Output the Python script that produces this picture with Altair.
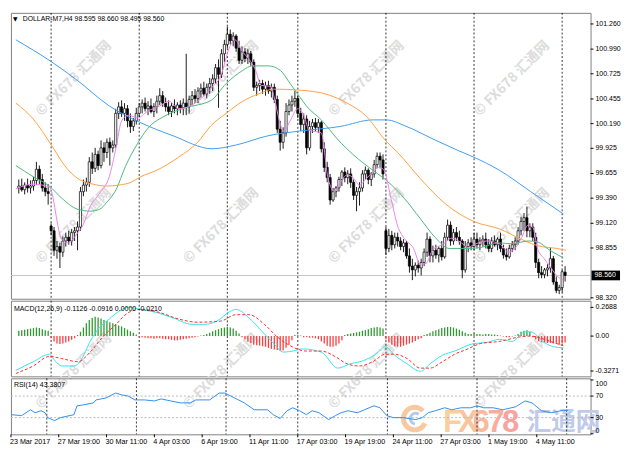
import altair as alt
import pandas as pd

W = 590
H_MAIN, H_MACD, H_RSI = 291, 77, 57
FONT = "Liberation Sans"
CJK = "Noto Sans CJK SC"
FS = 7.1

TITLE = "DOLLAR-M7,H4  98.595 98.660 98.495 98.560"
MACD_TITLE = "MACD(12,26,9) -0.1126 -0.0916 0.0000 -0.0210"
RSI_TITLE = "RSI(14) 43.3807"
CURRENT = 98.560

PRICE_TICKS = [101.260, 100.990, 100.725, 100.455, 100.190, 99.925, 99.655,
               99.390, 99.120, 98.855, 98.320]
MACD_TICKS = [0.2688, 0.0, -0.3271]
MACD_TICK_TEXT = ["0.2688", "0.00", "-0.3271"]
RSI_TICKS = [70, 30]
RSI_TOP, RSI_BOTTOM = 100, 0
RSI_LEVELS = [70, 30]
GRID_BARS = [11, 41, 71, 95, 125, 155, 185]
X_LABEL_BARS = [-1, 15, 31, 47, 63, 79, 95, 111, 127, 143, 159, 175]
X_LABELS = ["23 Mar 2017", "27 Mar 19:00", "30 Mar 11:00", "4 Apr 03:00",
            "6 Apr 19:00", "11 Apr 11:00", "17 Apr 03:00", "19 Apr 19:00",
            "24 Apr 11:00", "27 Apr 03:00", "1 May 19:00", "4 May 11:00"]

# ---- H4 candles ----
OPEN = [
    99.50, 99.52, 99.48, 99.53, 99.50, 99.52, 99.58, 99.70, 99.59, 99.50,
    99.46, 99.09, 99.04, 98.83, 98.87, 98.81, 98.93, 98.97, 98.93, 99.02,
    99.04, 99.08, 99.46, 99.53, 99.56, 99.78, 99.71, 99.86, 99.74, 99.93,
    99.88, 99.99, 99.93, 99.96, 100.30, 100.37, 100.30, 100.35, 100.22, 100.16,
    100.22, 100.30, 100.37, 100.41, 100.35, 100.38, 100.32, 100.37, 100.43, 100.49,
    100.41, 100.37, 100.32, 100.38, 100.35, 100.39, 100.36, 100.41, 100.37, 100.45,
    100.49, 100.46, 100.54, 100.57, 100.51, 100.58, 100.62, 100.67, 100.79, 100.72,
    100.94, 101.04, 101.15, 101.08, 101.13, 101.00, 100.87, 100.96, 100.89, 100.94,
    100.85, 100.58, 100.60, 100.62, 100.56, 100.60, 100.54, 100.58, 100.45, 100.13,
    99.99, 100.09, 100.32, 100.39, 100.43, 100.46, 100.30, 100.18, 100.24, 99.93,
    100.16, 100.20, 100.15, 100.20, 99.92, 99.72, 99.61, 99.37, 99.46, 99.50,
    99.59, 99.67, 99.61, 99.65, 99.56, 99.42, 99.46, 99.50, 99.65, 99.69,
    99.59, 99.65, 99.75, 99.84, 99.80, 99.04, 98.85, 98.99, 98.89, 98.97,
    98.93, 98.87, 98.91, 98.77, 98.66, 98.62, 98.67, 98.64, 98.70, 98.81,
    98.95, 98.77, 98.83, 98.78, 98.85, 98.76, 98.97, 99.10, 98.93, 99.02,
    98.97, 98.93, 98.62, 98.87, 98.91, 98.87, 98.95, 98.89, 98.93, 98.95,
    98.89, 98.85, 98.93, 98.89, 98.95, 98.85, 98.78, 98.76, 98.85, 98.89,
    98.93, 99.04, 99.14, 99.18, 99.04, 99.08, 98.97, 98.70, 98.59, 98.57,
    98.62, 98.64, 98.74, 98.49, 98.40, 98.43, 98.595]
HIGH = [
    99.59, 99.60, 99.56, 99.60, 99.58, 99.62, 99.78, 99.74, 99.65, 99.56,
    99.54, 99.12, 99.08, 98.93, 98.91, 98.98, 99.02, 99.04, 99.06, 99.08,
    99.14, 99.51, 99.59, 99.61, 99.83, 99.88, 99.93, 99.90, 100.01, 99.99,
    100.03, 100.04, 100.01, 100.35, 100.42, 100.44, 100.41, 100.39, 100.30, 100.25,
    100.36, 100.41, 100.45, 100.47, 100.43, 100.46, 100.41, 100.49, 100.57, 100.54,
    100.47, 100.44, 100.41, 100.45, 100.42, 100.44, 100.46, 100.94, 100.49, 100.54,
    100.56, 100.58, 100.62, 100.64, 100.62, 100.68, 100.72, 100.83, 100.88, 100.99,
    101.09, 101.23, 101.20, 101.17, 101.15, 101.08, 101.02, 101.00, 100.99, 100.97,
    100.88, 100.64, 100.66, 100.66, 100.64, 100.65, 100.62, 100.62, 100.49, 100.22,
    100.15, 100.41, 100.45, 100.49, 100.54, 100.49, 100.36, 100.30, 100.28, 100.22,
    100.24, 100.25, 100.24, 100.22, 99.99, 99.78, 99.65, 99.50, 99.52, 99.62,
    99.69, 99.72, 99.69, 99.71, 99.59, 99.51, 99.56, 99.69, 99.73, 99.71,
    99.67, 99.80, 99.88, 99.88, 99.86, 99.08, 99.06, 99.04, 99.02, 99.02,
    98.97, 98.95, 98.93, 98.85, 98.74, 98.70, 98.72, 98.74, 98.85, 99.02,
    98.98, 98.88, 98.89, 98.87, 98.93, 99.02, 99.16, 99.14, 99.06, 99.08,
    99.04, 98.95, 98.93, 98.95, 98.97, 99.02, 99.02, 98.97, 98.99, 99.02,
    98.95, 98.97, 98.99, 98.97, 99.02, 98.89, 98.85, 98.89, 98.93, 98.97,
    99.08, 99.19, 99.23, 99.30, 99.12, 99.12, 99.02, 98.74, 98.66, 98.64,
    98.68, 98.86, 98.77, 98.55, 98.46, 98.62, 98.660]
LOW = [
    99.44, 99.46, 99.43, 99.45, 99.44, 99.47, 99.53, 99.54, 99.46, 99.41,
    99.32, 98.99, 98.77, 98.74, 98.64, 98.76, 98.87, 98.89, 98.88, 98.93,
    98.83, 99.04, 99.41, 99.46, 99.51, 99.65, 99.67, 99.69, 99.71, 99.78,
    99.82, 99.74, 99.88, 99.93, 100.24, 100.26, 100.22, 100.15, 100.09, 100.11,
    100.18, 100.26, 100.30, 100.32, 100.28, 100.30, 100.26, 100.30, 100.39, 100.37,
    100.32, 100.28, 100.26, 100.30, 100.28, 100.30, 100.28, 100.28, 100.30, 100.39,
    100.41, 100.41, 100.47, 100.49, 100.46, 100.51, 100.54, 100.62, 100.36, 100.68,
    100.85, 101.00, 101.04, 101.02, 100.96, 100.83, 100.83, 100.85, 100.83, 100.81,
    100.54, 100.49, 100.54, 100.51, 100.49, 100.51, 100.47, 100.41, 100.09, 99.90,
    99.92, 100.05, 100.28, 100.32, 100.37, 100.25, 100.11, 100.09, 99.86, 99.90,
    100.09, 100.11, 100.09, 99.88, 99.67, 99.56, 99.32, 99.35, 99.40, 99.46,
    99.52, 99.56, 99.54, 99.50, 99.37, 99.25, 99.31, 99.46, 99.59, 99.54,
    99.52, 99.61, 99.71, 99.71, 99.59, 98.78, 98.81, 98.83, 98.85, 98.87,
    98.83, 98.81, 98.74, 98.59, 98.51, 98.55, 98.59, 98.56, 98.66, 98.76,
    98.70, 98.70, 98.74, 98.70, 98.72, 98.74, 98.93, 98.88, 98.89, 98.93,
    98.89, 98.53, 98.59, 98.81, 98.83, 98.83, 98.85, 98.83, 98.87, 98.85,
    98.81, 98.81, 98.87, 98.83, 98.81, 98.74, 98.72, 98.74, 98.81, 98.83,
    98.89, 98.99, 99.04, 98.97, 98.97, 98.93, 98.64, 98.53, 98.53, 98.53,
    98.55, 98.59, 98.46, 98.37, 98.36, 98.38, 98.495]
CLOSE = [
    99.52, 99.48, 99.53, 99.50, 99.52, 99.58, 99.70, 99.59, 99.50, 99.46,
    99.44, 99.04, 98.83, 98.87, 98.81, 98.93, 98.97, 98.93, 99.02, 99.04,
    99.08, 99.46, 99.53, 99.56, 99.78, 99.71, 99.86, 99.74, 99.93, 99.88,
    99.99, 99.93, 99.96, 100.30, 100.37, 100.30, 100.35, 100.22, 100.16, 100.22,
    100.30, 100.37, 100.41, 100.35, 100.38, 100.32, 100.37, 100.43, 100.49, 100.41,
    100.37, 100.32, 100.38, 100.35, 100.39, 100.36, 100.41, 100.37, 100.45, 100.49,
    100.46, 100.54, 100.57, 100.51, 100.58, 100.62, 100.67, 100.79, 100.72, 100.94,
    101.04, 101.15, 101.08, 101.13, 101.00, 100.87, 100.96, 100.89, 100.94, 100.85,
    100.58, 100.60, 100.62, 100.56, 100.60, 100.54, 100.58, 100.45, 100.13, 99.99,
    100.09, 100.32, 100.39, 100.43, 100.46, 100.30, 100.18, 100.24, 99.93, 100.16,
    100.20, 100.15, 100.20, 99.92, 99.72, 99.61, 99.37, 99.46, 99.50, 99.59,
    99.67, 99.61, 99.65, 99.56, 99.42, 99.46, 99.50, 99.65, 99.69, 99.59,
    99.65, 99.75, 99.84, 99.80, 99.65, 98.85, 98.99, 98.89, 98.97, 98.93,
    98.87, 98.91, 98.77, 98.66, 98.62, 98.67, 98.64, 98.70, 98.81, 98.95,
    98.77, 98.83, 98.78, 98.85, 98.76, 98.97, 99.10, 98.93, 99.02, 98.97,
    98.93, 98.62, 98.87, 98.91, 98.87, 98.95, 98.89, 98.93, 98.95, 98.89,
    98.85, 98.93, 98.89, 98.95, 98.85, 98.78, 98.76, 98.85, 98.89, 98.93,
    99.04, 99.14, 99.18, 99.04, 99.08, 98.97, 98.70, 98.59, 98.57, 98.62,
    98.64, 98.74, 98.49, 98.40, 98.43, 98.60, 98.560]

# ---- moving averages (bar position, price) ----
BLUE_I = [-1.0, 11.3, 20.1, 30.8, 41.5, 52.5, 65.8, 73.9, 84.9, 95.6, 109.5,
          120.5, 125.4, 131.2, 142.0, 149.7, 154.9, 163.6, 174.3, 185.4]
BLUE_V = [101.09, 100.85, 100.65, 100.38, 100.20, 100.06, 99.92, 99.96, 100.06,
          100.11, 100.16, 100.23, 100.23, 100.17, 100.01, 99.90, 99.83, 99.69,
          99.46, 99.22]
ORANGE_I = [-1.0, 4.9, 11.3, 15.6, 20.1, 25.3, 29.8, 34.0, 38.2, 41.5, 47.0,
            54.4, 60.9, 65.5, 70.6, 76.2, 81.7, 86.8, 95.6, 105.3, 111.8, 118.3,
            124.8, 129.0, 136.7, 145.2, 154.9, 163.6, 172.4, 176.6, 183.1, 186.3]
ORANGE_V = [100.41, 100.24, 99.95, 99.74, 99.60, 99.54, 99.52, 99.53, 99.56,
            99.62, 99.69, 99.83, 99.99, 100.17, 100.30, 100.43, 100.51, 100.56,
            100.55, 100.50, 100.41, 100.27, 100.01, 99.88, 99.60, 99.33, 99.14,
            99.06, 98.93, 98.88, 98.85, 98.83]
GREEN_I = [-1.0, 4.9, 10.4, 14.6, 20.1, 24.3, 27.5, 29.8, 33.1, 36.3, 40.5,
           43.7, 50.2, 56.7, 65.5, 70.6, 76.2, 79.4, 84.9, 89.1, 92.4, 95.6,
           97.9, 103.0, 108.6, 114.1, 120.5, 124.8, 131.2, 136.7, 142.0, 146.5,
           152.9, 157.2, 163.6, 167.9, 173.4, 176.6, 180.8, 185.4]
GREEN_V = [99.74, 99.62, 99.52, 99.39, 99.27, 99.25, 99.27, 99.34, 99.48, 99.73,
           99.98, 100.13, 100.28, 100.36, 100.44, 100.62, 100.76, 100.81, 100.81,
           100.76, 100.62, 100.48, 100.38, 100.23, 100.02, 99.85, 99.69, 99.59,
           99.39, 99.17, 98.96, 98.85, 98.85, 98.86, 98.91, 98.90, 98.93, 98.92,
           98.83, 98.75]
PINK_I = [-1.0, 4.9, 10.4, 14.6, 16.9, 20.1, 21.7, 24.3, 27.5, 30.8, 33.1, 35.0,
          37.3, 40.5, 43.7, 48.0, 51.2, 54.4, 57.7, 60.9, 65.5, 68.7, 71.9, 73.6,
          76.2, 78.4, 80.4, 82.6, 85.9, 86.8, 89.1, 90.1, 92.4, 94.9, 97.2, 98.8,
          103.0, 105.3, 107.6, 109.5, 111.8, 114.1, 116.0, 118.3, 120.5, 122.5,
          124.1, 127.0, 129.0, 131.2, 134.4, 136.7, 138.7, 141.0, 144.2, 147.4,
          150.7, 152.9, 154.9, 159.4, 163.6, 166.9, 169.2, 171.1, 173.4, 175.0,
          176.6, 178.9, 180.8, 183.1, 185.4]
PINK_V = [99.49, 99.54, 99.51, 98.95, 98.91, 99.02, 99.09, 99.30, 99.44, 99.62,
          99.93, 100.22, 100.28, 100.25, 100.32, 100.38, 100.43, 100.35, 100.37,
          100.43, 100.57, 100.70, 101.02, 101.09, 100.96, 100.88, 100.78, 100.60,
          100.59, 100.49, 100.18, 100.11, 100.22, 100.35, 100.27, 100.12, 100.09,
          99.60, 99.46, 99.56, 99.64, 99.60, 99.53, 99.60, 99.67, 99.72, 99.70,
          99.35, 99.09, 98.96, 98.85, 98.68, 98.69, 98.84, 98.89, 98.96, 98.91,
          98.86, 98.89, 98.93, 98.90, 98.81, 98.86, 98.96, 99.10, 99.08, 98.85,
          98.74, 98.66, 98.56, 98.51]

# ---- MACD ----
MACD_HIST = [
    0.05, 0.055, 0.06, 0.065, 0.07, 0.075, 0.08, 0.075, 0.065, 0.055, 0.05,
    -0.02, -0.05, -0.07, -0.075, -0.07, -0.06, -0.05, -0.035, -0.02,
    0.01, 0.04, 0.08, 0.12, 0.15, 0.17, 0.18, 0.175, 0.165, 0.15, 0.14, 0.13,
    0.12, 0.11, 0.10, 0.09, 0.075, 0.06, 0.045, 0.03, 0.015,
    -0.01, -0.01, -0.015, -0.02, -0.02, -0.025, -0.02, -0.02, -0.025, -0.03,
    -0.03, -0.035, -0.04, -0.04, -0.035, -0.03, -0.025, -0.02, -0.015, -0.01,
    -0.005,
    0.005, 0.01, 0.02, 0.03, 0.045, 0.055, 0.065, 0.075, 0.08, 0.085, 0.08,
    0.07, 0.05, 0.025,
    -0.01, -0.03, -0.05, -0.065, -0.08, -0.085, -0.09, -0.095, -0.10, -0.11,
    -0.12, -0.125, -0.13, -0.14, -0.135, -0.11, -0.08, -0.04,
    0.01, 0.01, 0.005,
    -0.01, -0.01, -0.015, -0.015, -0.02, -0.03,
    -0.05, -0.07, -0.09, -0.10, -0.10, -0.09, -0.07, -0.04,
    0.01, 0.02, 0.025, 0.03, 0.035, 0.04, 0.05, 0.055, 0.065, 0.075, 0.08,
    0.085, 0.08, 0.07,
    -0.03, -0.06, -0.08, -0.095, -0.10, -0.10, -0.09, -0.08, -0.07, -0.06,
    -0.045, -0.03, -0.02,
    0.01, 0.02, 0.03, 0.045, 0.055, 0.065, 0.075, 0.08, 0.085, 0.085, 0.08,
    0.07, 0.06, 0.045, 0.03,
    0.02, 0.02, 0.025, 0.02, 0.02, 0.015, 0.02, 0.02, 0.015, 0.015, 0.01, 0.005,
    -0.005, -0.01, -0.01, -0.005, 0.005,
    0.02, 0.04, 0.05, 0.055, 0.04,
    -0.01, -0.03, -0.045, -0.055, -0.06, -0.065, -0.065, -0.07, -0.075, -0.08,
    -0.07, -0.06]
MACD_MAIN_I = [-1.0, 4.9, 10.4, 12.3, 14.6, 18.8, 21.1, 24.3, 27.5, 30.8, 34.0,
               37.3, 41.5, 47.0, 52.5, 59.0, 63.2, 67.4, 71.9, 73.9, 78.4, 82.6,
               86.8, 90.1, 93.3, 96.6, 103.0, 108.6, 112.8, 117.3, 121.5, 124.8,
               128.0, 132.2, 136.7, 140.0, 144.2, 148.4, 154.9, 159.4, 163.6,
               167.9, 172.4, 174.3, 178.9, 182.1, 185.4]
MACD_MAIN_V = [-0.32, -0.24, -0.17, -0.23, -0.28, -0.28, -0.23, -0.05, 0.08,
               0.16, 0.23, 0.27, 0.25, 0.22, 0.17, 0.11, 0.11, 0.14, 0.23, 0.25,
               0.17, 0.05, -0.07, -0.15, -0.14, -0.12, -0.15, -0.30, -0.26,
               -0.23, -0.17, -0.10, -0.18, -0.26, -0.33, -0.26, -0.18, -0.14,
               -0.07, -0.06, -0.03, -0.05, 0.04, 0.04, -0.06, -0.10, -0.11]
MACD_SIG_I = [-1.0, 4.9, 10.4, 14.6, 20.1, 24.3, 28.5, 33.1, 37.3, 41.5, 48.0,
              54.4, 60.9, 68.7, 73.9, 78.4, 83.6, 88.1, 92.4, 97.9, 103.0, 107.6,
              111.8, 116.0, 120.5, 124.8, 128.0, 132.2, 136.7, 140.0, 144.2,
              148.4, 152.9, 157.2, 163.6, 170.2, 174.3, 178.9, 183.1, 185.4]
MACD_SIG_V = [-0.35, -0.28, -0.19, -0.21, -0.24, -0.15, -0.01, 0.11, 0.22, 0.25,
              0.22, 0.16, 0.13, 0.14, 0.20, 0.20, 0.11, -0.01, -0.09, -0.14,
              -0.14, -0.19, -0.26, -0.28, -0.24, -0.17, -0.17, -0.21, -0.30,
              -0.30, -0.24, -0.17, -0.12, -0.07, -0.05, -0.01, 0.00, -0.03,
              -0.07, -0.09]

# ---- RSI(14) ----
RSI_I = [-1.0, 2.6, 5.5, 7.1, 9.1, 10.4, 11.3, 13.6, 15.6, 20.1, 21.1, 23.3,
         26.6, 27.5, 30.8, 34.0, 36.3, 38.2, 40.5, 43.7, 47.0, 49.3, 52.5, 55.7,
         59.0, 60.9, 65.5, 68.7, 70.6, 73.9, 77.1, 80.4, 84.9, 86.8, 89.1, 91.4,
         93.3, 95.6, 97.9, 99.8, 102.1, 105.3, 107.6, 109.5, 111.8, 115.0,
         117.3, 120.5, 122.5, 124.8, 127.0, 130.3, 132.2, 134.5, 136.7, 138.7,
         141.0, 144.2, 146.5, 149.7, 152.9, 154.9, 157.2, 160.4, 163.6, 167.9,
         171.1, 173.4, 176.6, 179.8, 183.1, 185.4]
RSI_V = [35.5, 33.7, 44.6, 39.1, 42.8, 39.1, 30.0, 24.5, 30.0, 35.5, 51.9, 53.7,
         57.4, 62.9, 66.5, 75.6, 72.0, 70.2, 62.9, 62.9, 61.0, 64.7, 61.0, 57.4,
         57.4, 62.9, 62.9, 75.6, 75.6, 66.5, 57.4, 44.6, 44.6, 35.5, 28.2, 42.8,
         48.3, 42.8, 35.5, 42.8, 39.1, 26.4, 33.7, 39.1, 42.8, 39.1, 44.6, 51.9,
         48.3, 33.7, 30.0, 30.0, 28.2, 26.4, 30.0, 39.1, 42.8, 48.3, 44.6, 48.3,
         48.3, 51.9, 48.3, 48.3, 44.6, 50.1, 61.0, 57.4, 42.8, 39.1, 42.8, 43.4]

# watermark / logo texts
WATERMARK = "© FX678 汇通网"
LOGO_LATIN = ["F", "X", "6", "7", "8"]
LOGO_LATIN_COLORS = ["#f9cf9f", "#f9c59c", "#f8ba9d", "#f8ae9e", "#f7a3a0"]
LOGO_CJK = "汇通网"

# ---------------------------------------------------------------------------
xs = alt.Scale(domain=[-1, 193], nice=False, zero=False)
ys_main = alt.Scale(domain=[98.31, 101.379], nice=False, zero=False)
ys_macd = alt.Scale(domain=[-0.377, 0.331], nice=False, zero=False)
ys_rsi = alt.Scale(domain=[-1, 103], nice=False, zero=False)

one = pd.DataFrame({"k": [0]})


def xq():
    return alt.X("i:Q", scale=xs, axis=None)


def label(txt, x, y, size=FS, font=FONT, color="#000", align="left", **kw):
    return alt.Chart(one).mark_text(
        align=align, baseline="middle", font=font, fontSize=size, color=color,
        text=txt, **kw).encode(x=alt.value(x), y=alt.value(y))


def watermarks(y):
    return [alt.Chart(one).mark_text(
        text=WATERMARK, angle=315, font=CJK, fontSize=14,
        fontWeight="bold", color="#dcdcdc").encode(x=alt.value(px), y=alt.value(y))
        for px in (64, 214, 362, 510)]


def line(idx, vals, scale, color, width=1.0, dash=None, interp="monotone"):
    df = pd.DataFrame({"i": idx, "v": vals})
    kw = dict(color=color, strokeWidth=width, interpolate=interp, clip=True)
    if dash:
        kw["strokeDash"] = dash
    return alt.Chart(df).mark_line(**kw).encode(
        x=xq(), y=alt.Y("v:Q", scale=scale, axis=None))


def grid():
    return alt.Chart(pd.DataFrame({"i": GRID_BARS})).mark_rule(
        color="#000", strokeDash=[2, 2], strokeWidth=0.8).encode(x=xq())


def right_axis(values, texts, scale, baseline="middle"):
    df = pd.DataFrame({"v": values, "t": texts})
    ticks = alt.Chart(df).mark_rule(color="#000", strokeWidth=1).encode(
        x=alt.value(W), x2=alt.value(W + 3),
        y=alt.Y("v:Q", scale=scale, axis=None))
    txt = alt.Chart(df).mark_text(
        align="left", baseline=baseline, font=FONT, fontSize=FS,
        color="#000").encode(
        x=alt.value(W + 5), y=alt.Y("v:Q", scale=scale, axis=None), text="t:N")
    return [ticks, txt]


# ---- main price panel ----
cd = pd.DataFrame({"i": list(range(len(CLOSE))), "o": OPEN, "h": HIGH,
                   "l": LOW, "c": CLOSE})

wicks = alt.Chart(cd).mark_rule(color="#000", strokeWidth=0.9).encode(
    x=xq(), y=alt.Y("l:Q", scale=ys_main, axis=None), y2="h:Q")
bodies = alt.Chart(cd).mark_bar(size=2.2, stroke="#000", strokeWidth=0.7).encode(
    x=xq(), y=alt.Y("o:Q", scale=ys_main, axis=None), y2="c:Q",
    fill=alt.condition(alt.datum.c >= alt.datum.o, alt.value("#ffffff"),
                       alt.value("#000000")))
cur = pd.DataFrame({"v": [CURRENT], "lo": [CURRENT - 0.052],
                    "hi": [CURRENT + 0.052], "t": [f"{CURRENT:.3f}"]})
cur_line = alt.Chart(cur).mark_rule(color="#c4c4c4", strokeWidth=1).encode(
    y=alt.Y("v:Q", scale=ys_main, axis=None))
box = alt.Chart(cur).mark_rect(color="#000").encode(
    x=alt.value(W + 1), x2=alt.value(W + 30),
    y=alt.Y("lo:Q", scale=ys_main, axis=None), y2="hi:Q")
box_txt = alt.Chart(cur).mark_text(
    align="left", baseline="middle", color="#fff", font=FONT, fontSize=FS).encode(
    x=alt.value(W + 4), y=alt.Y("v:Q", scale=ys_main, axis=None), text="t:N")

main = alt.layer(
    *watermarks(67), *watermarks(217),
    grid(), cur_line, wicks, bodies,
    line(BLUE_I, BLUE_V, ys_main, "#3d9df2"),
    line(ORANGE_I, ORANGE_V, ys_main, "#ffa040"),
    line(GREEN_I, GREEN_V, ys_main, "#4cb87a"),
    line(PINK_I, PINK_V, ys_main, "#ee82ee"),
    label("▼", 2, 6, size=6, font="DejaVu Sans"),
    label(TITLE, 12, 6, size=7.0),
    *right_axis(PRICE_TICKS, [f"{v:.3f}" for v in PRICE_TICKS], ys_main),
    box, box_txt,
).properties(width=W, height=H_MAIN)

# ---- MACD panel ----
mh = pd.DataFrame({"i": list(range(len(MACD_HIST))), "h": MACD_HIST})
hist = alt.Chart(mh).mark_bar(size=1.3).encode(
    x=xq(), y=alt.Y("h:Q", scale=ys_macd, axis=None), y2=alt.datum(0),
    color=alt.condition(alt.datum.h >= 0, alt.value("#2e9a2e"),
                        alt.value("#ff3b3b")))
macd = alt.layer(
    *watermarks(72),
    grid(), hist,
    line(MACD_MAIN_I, MACD_MAIN_V, ys_macd, "#35e3f0"),
    line(MACD_SIG_I, MACD_SIG_V, ys_macd, "#ff2a2a", dash=[3, 2]),
    label(MACD_TITLE, 3, 8),
    *right_axis(MACD_TICKS, MACD_TICK_TEXT, ys_macd),
).properties(width=W, height=H_MACD)

# ---- RSI panel ----
rsi_df = pd.DataFrame({"i": RSI_I, "v": RSI_V})
rsi_line = alt.Chart(rsi_df).mark_line(color="#2f8ff0", strokeWidth=1).encode(
    x=xq(), y=alt.Y("v:Q", scale=ys_rsi, axis=None))
levels = alt.Chart(pd.DataFrame({"v": RSI_LEVELS})).mark_rule(
    color="#b8b8b8", strokeDash=[2, 2], strokeWidth=1).encode(
    y=alt.Y("v:Q", scale=ys_rsi, axis=None))

xl = pd.DataFrame({"i": X_LABEL_BARS, "t": X_LABELS})
x_ticks = alt.Chart(xl).mark_rule(color="#000").encode(
    x=xq(), y=alt.value(H_RSI), y2=alt.value(H_RSI + 3))
x_text = alt.Chart(xl).mark_text(
    align="left", baseline="middle", font=FONT, fontSize=7.3, color="#000",
    dx=-1).encode(x=xq(), y=alt.value(H_RSI + 8), text="t:N")

# big FX678 logo (decoration, bottom right)
logo = [
    alt.Chart(one).mark_arc(radius=14, radius2=9, theta=2.0, theta2=7.1,
                            color="#f8c9a0").encode(
        x=alt.value(411), y=alt.value(41)),
    alt.Chart(one).mark_arc(radius=7, radius2=4, theta=3.3, theta2=6.9,
                            color="#b9c9ea").encode(
        x=alt.value(412), y=alt.value(41)),
]
for k, (ch, colr) in enumerate(zip(LOGO_LATIN, LOGO_LATIN_COLORS)):
    logo.append(alt.Chart(one).mark_text(
        align="left", baseline="alphabetic", text=ch, fontSize=31,
        fontWeight="bold", font=FONT, color=colr).encode(
        x=alt.value(440 + 15 * k), y=alt.value(55)))
logo.append(alt.Chart(one).mark_text(
    align="left", baseline="alphabetic", text=LOGO_CJK, fontSize=25,
    fontWeight="bold", font=CJK, color="#c0cbea").encode(
    x=alt.value(525), y=alt.value(53)))

rsi = alt.layer(
    *logo, grid(), levels, rsi_line, label(RSI_TITLE, 3, 7),
    *right_axis([RSI_TOP], [str(RSI_TOP)], ys_rsi, baseline="top"),
    *right_axis(RSI_TICKS, [str(v) for v in RSI_TICKS], ys_rsi),
    *right_axis([RSI_BOTTOM], [str(RSI_BOTTOM)], ys_rsi, baseline="bottom"),
    x_ticks, x_text,
).properties(width=W, height=H_RSI)

chart = alt.vconcat(main, macd, rsi, spacing=2, bounds="flush").properties(
    padding=0, background="white"
).configure_view(stroke="#808080", strokeWidth=1)

chart.save("out.html", embed_options={"renderer": "svg", "actions": False})
